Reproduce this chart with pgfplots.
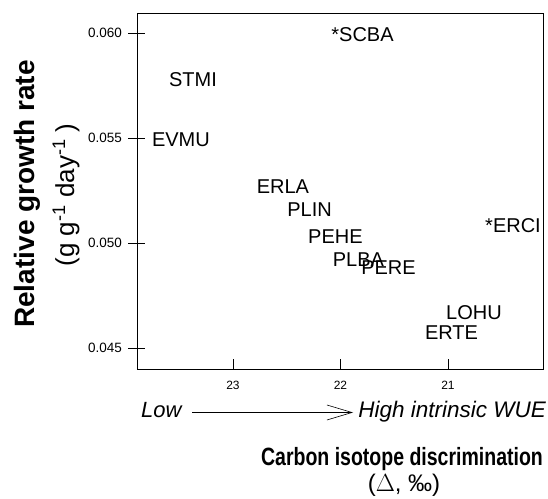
\documentclass[border=0pt]{standalone}
\usepackage{fontspec}
\setmainfont{Liberation Sans}
\usepackage{pgfplots}
\usepackage{pgfplotstable}
\pgfplotsset{compat=1.18}
\usetikzlibrary{arrows.meta}

% label positions (centre of each species code)
\pgfplotstableread{
label x y
*SCBA 21.795 0.05990
STMI 23.372 0.05776
EVMU 23.484 0.05490
ERLA 22.535 0.05267
PLIN 22.288 0.05157
PEHE 22.047 0.05029
PLBA 21.833 0.04919
PERE 21.553 0.04881
*ERCI 20.395 0.05081
LOHU 20.758 0.04667
ERTE 20.967 0.04571
}\species

\begin{document}
\begin{tikzpicture}
\path[use as bounding box] (0,0) rectangle (548bp,499bp);
\begin{axis}[
  at={(137bp,130bp)}, anchor=south west,
  scale only axis, width=406bp, height=356bp,
  xmin=20.116, xmax=23.893, x dir=reverse,
  ymin=0.044, ymax=0.06095,
  xtick={21,22,23}, ytick={0.045,0.050,0.055,0.060},
  scaled y ticks=false,
  xtick pos=bottom, ytick pos=left,
  xtick align=inside, ytick align=center,
  major tick length=17bp,
  xtick style={/pgfplots/major tick length=10bp},
  axis line style={line width=0.8bp},
  tick style={line width=0.8bp, black},
  yticklabel style={/pgf/number format/fixed, /pgf/number format/fixed zerofill, /pgf/number format/precision=3},
  /pgf/number format/assume math mode=true,
  xticklabel style={font=\fontsize{12bp}{14bp}\selectfont, yshift=-9bp},
  yticklabel style={font=\fontsize{13.5bp}{16bp}\selectfont, xshift=-3bp},
]
\addplot[draw=none, mark=none, nodes near coords, point meta=explicit symbolic,
  every node near coord/.append style={anchor=center, inner sep=0pt, font=\fontsize{20bp}{24bp}\selectfont}]
  table[x=x, y=y, meta=label] {\species};
\end{axis}
\node[rotate=90, font=\bfseries\fontsize{28bp}{32bp}\selectfont] at (27.5bp,305bp) {Relative growth rate};
\node[rotate=90, font=\fontsize{26bp}{30bp}\selectfont] at (66bp,304bp) {(g g\textsuperscript{-1} day\textsuperscript{-1} )};
\node[anchor=base west, font=\itshape\fontsize{22bp}{26bp}\selectfont, inner sep=0pt] at (141bp,81bp) {Low};
\draw[line width=0.6bp, -{Straight Barb[length=25bp, width=15bp, line width=0.6bp]}] (192bp,86.5bp) -- (353bp,86.5bp);
\node[anchor=base east, font=\itshape\fontsize{22.5bp}{26bp}\selectfont, inner sep=0pt] at (546bp,81bp) {High intrinsic WUE};
\node[anchor=base, inner sep=0pt] at (402bp,34bp) {\scalebox{0.78}[1]{\bfseries\fontsize{25bp}{29bp}\selectfont Carbon isotope discrimination}};
\node[inner sep=0pt] at (404bp,14bp) {\fontsize{24bp}{28bp}\selectfont ($\Delta$, ‰)};
\end{tikzpicture}
\end{document}
